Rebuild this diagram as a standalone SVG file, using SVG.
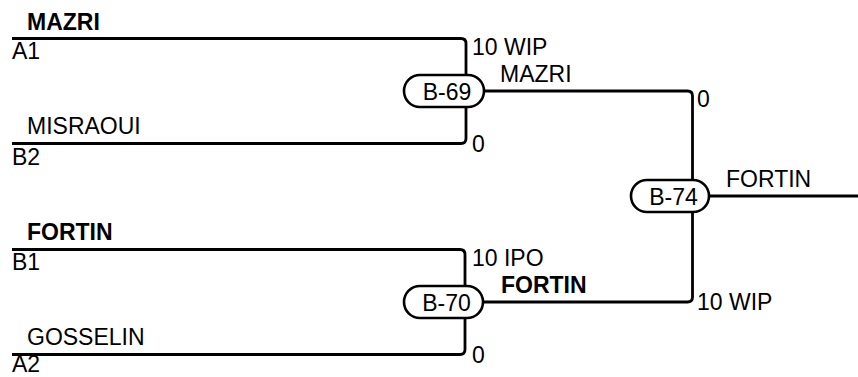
<svg xmlns="http://www.w3.org/2000/svg" width="858" height="377" viewBox="0 0 858 377">
<style>
text{font-family:"Liberation Sans",Arial,sans-serif;font-size:23px;fill:#000}
.b{font-weight:bold}
.ln{fill:none;stroke:#000;stroke-width:2.8}
.pill{fill:#fff;stroke:#000;stroke-width:2.6}
.c{text-anchor:middle}
</style>
<rect width="858" height="377" fill="#fff"/>
<g id="connectors">
<path class="ln" d="M12,38.5 H461 Q466,38.5 466,43.5 V138.5 Q466,143.5 461,143.5 H12"/>
<path class="ln" d="M12,249.5 H460 Q465,249.5 465,254.5 V349.5 Q465,354.5 460,354.5 H12"/>
<path class="ln" d="M484,91 H687.5 Q692.5,91 692.5,96 V297 Q692.5,302 687.5,302 H483"/>
<path class="ln" d="M709,196 H858"/>
</g>
<g id="labels">
<text x="27" y="30" class="b">MAZRI</text>
<text x="12" y="59">A1</text>
<text x="27" y="134">MISRAOUI</text>
<text x="12" y="164.5">B2</text>
<text x="472" y="55">10 WIP</text>
<text x="472" y="152">0</text>
<text x="500" y="82">MAZRI</text>
<text x="697" y="107">0</text>
<text x="726" y="187">FORTIN</text>
<text x="27" y="240" class="b">FORTIN</text>
<text x="12" y="270">B1</text>
<text x="27" y="345">GOSSELIN</text>
<text x="12" y="372">A2</text>
<text x="472" y="266">10 IPO</text>
<text x="472" y="363">0</text>
<text x="501" y="293" class="b">FORTIN</text>
<text x="697" y="309.5">10 WIP</text>
</g>
<g id="B-69">
<rect class="pill" x="404" y="75" width="80" height="32" rx="16"/>
<text x="447" y="99.5" class="c">B-69</text>
</g>
<g id="B-70">
<rect class="pill" x="404" y="286" width="79" height="32" rx="16"/>
<text x="446.5" y="310.5" class="c">B-70</text>
</g>
<g id="B-74">
<rect class="pill" x="631" y="180" width="78" height="32" rx="16"/>
<text x="673.5" y="204.5" class="c">B-74</text>
</g>
</svg>
